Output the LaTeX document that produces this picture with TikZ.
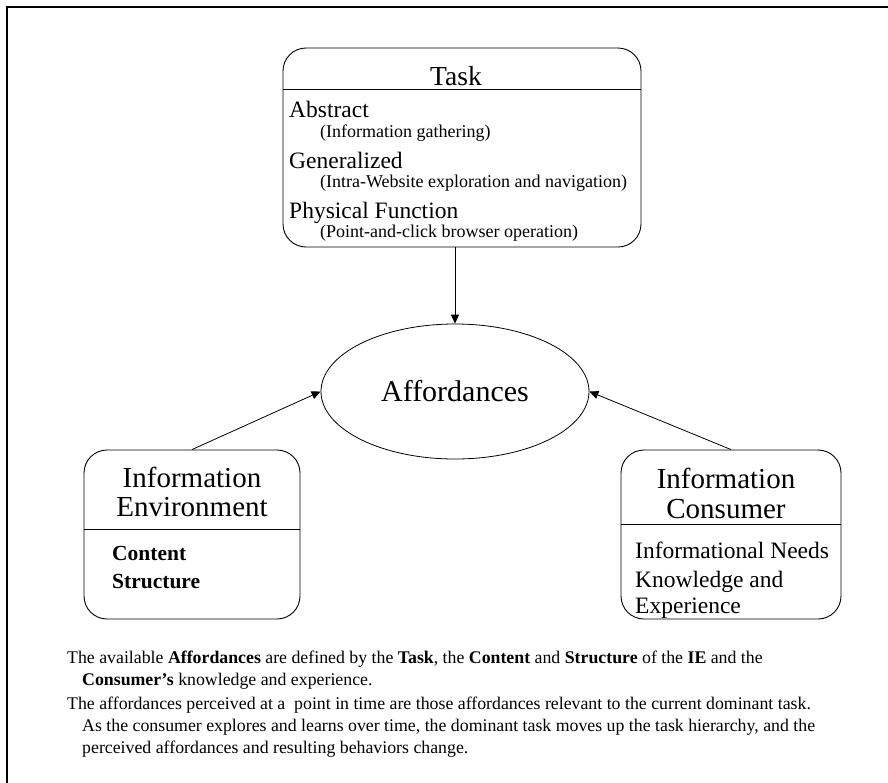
\documentclass[tikz,border=0pt]{standalone}
\usepackage{fontspec}
\setmainfont{Liberation Serif}
\usetikzlibrary{arrows.meta,shapes.geometric}
\begin{document}
\begin{tikzpicture}[x=1pt,y=-1pt,
  arr/.style={-{Triangle[length=9pt,width=8pt]}, line width=0.8pt},
  rbox/.style={draw, line width=0.9pt, rounded corners=23pt, inner sep=0pt},
  divline/.style={line width=0.9pt},
  ttl/.style={anchor=base, inner sep=0pt, font=\fontsize{29}{29}\selectfont},
  item/.style={anchor=base west, inner sep=0pt, font=\fontsize{23.5}{23.5}\selectfont},
  sub/.style={anchor=base west, inner sep=0pt, font=\fontsize{18}{18}\selectfont},
  note/.style={anchor=base west, inner sep=0pt, font=\fontsize{17.8}{17.8}\selectfont},
]
\useasboundingbox (0,0) rectangle (888,782);
\fill[white] (0,0) rectangle (888,782);
\draw[line width=1.8pt] (7,800) -- (7,7) -- (900,7);

% Task box
\node[rbox, minimum width=358pt, minimum height=199pt] (task) at (462,147.5) {};
\node[anchor=base, inner sep=0pt, font=\fontsize{27.5}{27.5}\selectfont] (tasktitle) at (456,85) {Task};
\draw[divline] (283,89) -- (641,89);
\node[item] (abs) at (289,117) {Abstract};
\node[sub] (abssub) at (320,137) {(Information gathering)};
\node[item] (gen) at (289,168) {Generalized};
\node[sub] (gensub) at (320,187) {(Intra-Website exploration and navigation)};
\node[item] (phys) at (289,218) {Physical Function};
\node[sub] (physsub) at (320,237) {(Point-and-click browser operation)};

% Affordances
\node[draw, ellipse, line width=0.8pt, minimum width=268pt, minimum height=135pt, inner sep=0pt,
  font=\fontsize{30}{30}\selectfont] (aff) at (455,391.5) {Affordances};

% Information Environment
\node[rbox, minimum width=216pt, minimum height=169pt] (env) at (192,534.5) {};
\node[ttl] (envt1) at (192,487) {Information};
\node[ttl] (envt2) at (192,516) {Environment};
\draw[divline] (84,529) -- (300,529);
\node[item, font=\bfseries\fontsize{21.5}{21.5}\selectfont] (cont) at (112,560) {Content};
\node[item, font=\bfseries\fontsize{21.5}{21.5}\selectfont] (struc) at (112,588) {Structure};

% Information Consumer
\node[rbox, minimum width=220pt, minimum height=169pt] (con) at (731,534.5) {};
\node[ttl] (cont1) at (726,488) {Information};
\node[ttl] (cont2) at (726,518) {Consumer};
\draw[divline] (621,524) -- (841,524);
\node[item] (needs) at (635,558) {Informational Needs};
\node[item] (know) at (635,587) {Knowledge and};
\node[item] (exp) at (635,613) {Experience};

% Connectors
\draw[arr] (aff.north |- task.south) -- (aff.north);
\draw[arr] (env.north) -- (aff.west);
\draw[arr] (con.north) -- (aff.east);

% Notes
\node[note] (n1) at (67,663) {The available \textbf{Affordances} are defined by the \textbf{Task}, the \textbf{Content} and \textbf{Structure} of the \textbf{IE} and the};
\node[note] (n2) at (82,685) {\textbf{Consumer’s} knowledge and experience.};
\node[note] (n3) at (67,709) {The affordances perceived at a\ \ point in time are those affordances relevant to the current dominant task.};
\node[note] (n4) at (82,731) {As the consumer explores and learns over time, the dominant task moves up the task hierarchy, and the};
\node[note] (n5) at (82,753) {perceived affordances and resulting behaviors change.};
\end{tikzpicture}
\end{document}
